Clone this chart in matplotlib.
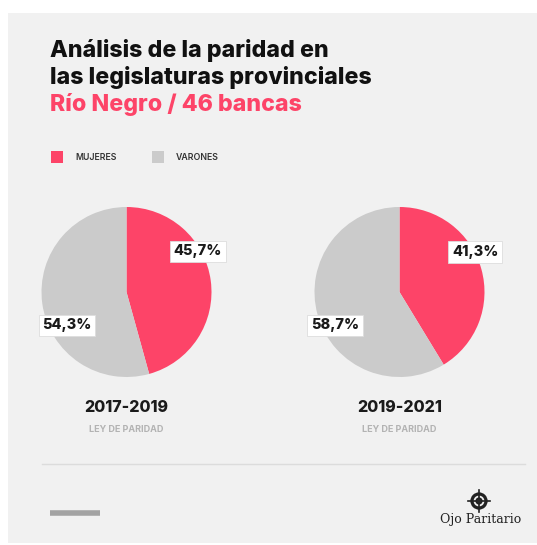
import matplotlib
matplotlib.use("Agg")
import matplotlib.pyplot as plt
from matplotlib.patches import Rectangle, Circle
from matplotlib.lines import Line2D

# ---- data ----
categories = ["MUJERES", "VARONES"]
periods = ["2017-2019", "2019-2021"]
mujeres_pct = [45.7, 41.3]
varones_pct = [54.3, 58.7]
subtitle_period = "LEY DE PARIDAD"

PINK = "#fd4468"
GRAY = "#cbcbcb"
BG = "#f1f1f1"

W, H = 537, 545
fig = plt.figure(figsize=(W / 100, H / 100), dpi=100)
fig.patch.set_facecolor("white")

def fx(x):
    return x / W

def fy(y):
    return 1 - y / H

# panel
fig.patches.append(Rectangle((fx(8), fy(543)), fx(W) - fx(8), fy(13) - fy(543),
                             transform=fig.transFigure, facecolor=BG, edgecolor="none", zorder=-5))

TFONT = ["Inter", "DejaVu Sans"]
TS = 16.7
fig.text(fx(50), fy(57), "Análisis de la paridad en", fontsize=TS, fontweight="heavy",
         family=TFONT, color="#111111", va="baseline")
fig.text(fx(50), fy(84), "las legislaturas provinciales", fontsize=TS, fontweight="heavy",
         family=TFONT, color="#111111", va="baseline")
fig.text(fx(50), fy(111), "Río Negro / 46 bancas", fontsize=TS, fontweight="heavy",
         family=TFONT, color=PINK, va="baseline")

# legend
leg_x = [51, 152]
for i, (cat, col) in enumerate(zip(categories, [PINK, GRAY])):
    fig.patches.append(Rectangle((fx(leg_x[i]), fy(163)), fx(12), 12 / H,
                                 transform=fig.transFigure, facecolor=col, edgecolor="none", zorder=1))
    fig.text(fx(leg_x[i] + 24), fy(157.5), cat, fontsize=6.3, family=TFONT, fontweight="semibold",
             color="#333333", va="center")

# pies
centers = [(126.5, 292), (399.5, 292)]
R = 85
pink_lbl = [(0.84, 0.48), (0.89, 0.47)]
gray_lbl = [(-0.70, -0.39), (-0.76, -0.39)]
for i, (cx, cy) in enumerate(centers):
    ax = fig.add_axes([fx(cx - R), fy(cy + R), 2 * R / W, 2 * R / H])
    ax.pie([mujeres_pct[i], varones_pct[i]], colors=[PINK, GRAY], startangle=90,
           counterclock=False, radius=1.0, wedgeprops=dict(linewidth=0))
    ax.set_xlim(-1, 1)
    ax.set_ylim(-1, 1)
    ax.set_aspect("equal")
    ax.axis("off")
    box = dict(boxstyle="square,pad=0.25", facecolor="white", edgecolor="#dddddd", linewidth=0.6)
    for (lx, ly), val in [(pink_lbl[i], mujeres_pct[i]), (gray_lbl[i], varones_pct[i])]:
        ax.text(lx, ly, f"{val:.1f}%".replace(".", ","), ha="center", va="center",
                fontsize=10.5, fontweight="heavy", family=TFONT, color="#1a1a1a", bbox=box)
    fig.text(fx(cx), fy(408), periods[i], ha="center", va="center", fontsize=11.5,
             fontweight="heavy", family=TFONT, color="#1a1a1a")
    fig.text(fx(cx), fy(429), subtitle_period, ha="center", va="center", fontsize=6.5,
             fontweight="bold", family=TFONT, color="#b3b3b3")

# separator
fig.lines.append(Line2D([fx(42), fx(525)], [fy(464), fy(464)], transform=fig.transFigure,
                        color="#dcdcdc", linewidth=1))
fig.lines.append(Line2D([fx(50), fx(100)], [fy(513), fy(513)], transform=fig.transFigure,
                        color="#a3a3a3", linewidth=4, solid_capstyle="butt"))

# logo
lax = fig.add_axes([fx(467), fy(513), 24 / W, 24 / H])
lax.set_xlim(-1, 1)
lax.set_ylim(-1, 1)
lax.set_aspect("equal")
lax.axis("off")
lax.plot([-0.95, 0.95], [0, 0], color="#222222", lw=1.2)
lax.plot([0, 0], [-0.95, 0.95], color="#222222", lw=1.2)
lax.add_patch(Circle((0, 0), 0.72, facecolor="#222222", edgecolor="none"))
lax.add_patch(Circle((0, 0), 0.45, facecolor=BG, edgecolor="none"))
lax.add_patch(Circle((0, 0), 0.30, facecolor="#222222", edgecolor="none"))
lax.add_patch(Circle((0, 0), 0.10, facecolor=BG, edgecolor="none"))
fig.text(fx(481), fy(520), "Ojo Paritario", ha="center", va="center", fontsize=9,
         family=["DejaVu Serif"], color="#222222")

fig.savefig("out.png", dpi=100, facecolor=fig.get_facecolor())
